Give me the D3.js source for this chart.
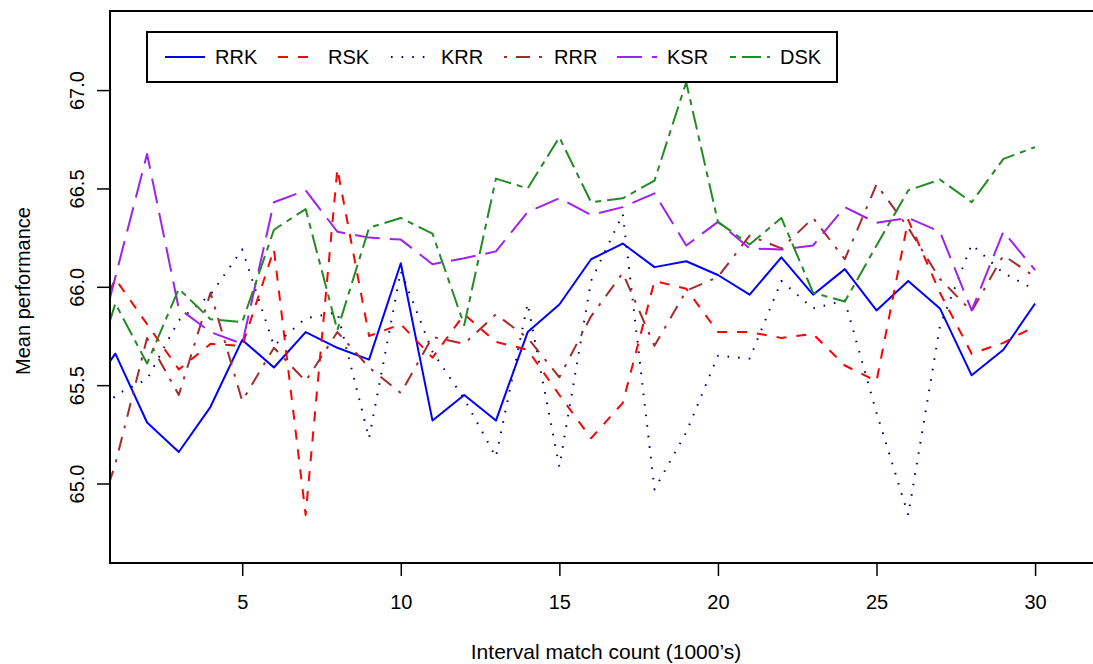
<!DOCTYPE html>
<html>
<head>
<meta charset="utf-8">
<script src="https://cdn.jsdelivr.net/npm/d3@7"></script>
<style>
  html, body { margin: 0; padding: 0; background: #fff; }
  svg { display: block; font-family: "Liberation Sans", Arial, Helvetica, sans-serif; }
</style>
</head>
<body>
<svg id="chart" width="1093" height="664"></svg>
<script>
// Interval match counts (thousands); the first sample sits at 0
const counts = d3.range(0, 31);

const seriesNames = ["RRK", "RSK", "KRR", "RRR", "KSR", "DSK"];

const rrk = [65.43, 65.66, 65.31, 65.16, 65.39, 65.73, 65.59, 65.77, 65.69, 65.63, 66.12,
  65.32, 65.45, 65.32, 65.77, 65.91, 66.14, 66.22, 66.10, 66.13, 66.06,
  65.96, 66.15, 65.96, 66.09, 65.88, 66.03, 65.89, 65.55, 65.68, 65.915];
const rsk = [65.70, 66.04, 65.81, 65.58, 65.71, 65.70, 66.19, 64.84, 66.60, 65.75, 65.81,
  65.64, 65.86, 65.72, 65.68, 65.45, 65.23, 65.41, 66.03, 65.99, 65.77,
  65.77, 65.74, 65.76, 65.60, 65.52, 66.34, 65.97, 65.66, 65.715, 65.80];
const krr = [65.15, 65.45, 65.53, 65.83, 65.96, 66.19, 65.70, 65.84, 65.87, 65.23, 66.08,
  65.67, 65.43, 65.135, 65.915, 65.085, 66.03, 66.37, 64.97, 65.26, 65.65,
  65.635, 66.03, 65.89, 65.93, 65.36, 64.84, 65.80, 66.215, 66.07, 65.985];
const rrr = [64.60, 65.10, 65.74, 65.45, 65.97, 65.42, 65.69, 65.52, 65.77, 65.59, 65.46,
  65.745, 65.71, 65.86, 65.74, 65.54, 65.85, 66.07, 65.70, 65.98, 66.05,
  66.26, 66.195, 66.35, 66.14, 66.52, 66.30, 66.04, 65.875, 66.16, 66.05];
const ksr = [65.42, 66.05, 66.675, 65.89, 65.77, 65.71, 66.43, 66.49, 66.28, 66.25, 66.24,
  66.115, 66.145, 66.18, 66.38, 66.45, 66.365, 66.405, 66.475, 66.21, 66.33,
  66.195, 66.19, 66.21, 66.405, 66.325, 66.35, 66.28, 65.88, 66.28, 66.085];
const dsk = [65.40, 65.915, 65.61, 65.99, 65.835, 65.82, 66.29, 66.395, 65.78, 66.30, 66.35,
  66.27, 65.805, 66.55, 66.50, 66.76, 66.43, 66.45, 66.54, 67.04, 66.33,
  66.215, 66.35, 65.97, 65.925, 66.21, 66.49, 66.545, 66.43, 66.65, 66.71];

const xTicks = [5, 10, 15, 20, 25, 30];
const yTicks = [65.0, 65.5, 66.0, 66.5, 67.0];
const yTickLabels = ["65.0", "65.5", "66.0", "66.5", "67.0"];

const xTitle = "Interval match count (1000\u2019s)";
const yTitle = "Mean performance";

// Line styles in the spirit of R's lty 1..6
const styles = [
  { color: "#0000FF", dash: null },
  { color: "#FF0000", dash: "10,10" },
  { color: "#000080", dash: "1.6,9" },
  { color: "#A52A2A", dash: "3,9,14,9" },
  { color: "#A020F0", dash: "25,10" },
  { color: "#228B22", dash: "6,6,19,6" }
];

const seriesValues = [rrk, rsk, krr, rrr, ksr, dsk];

const plot = { left: 110, top: 11, right: 1102, bottom: 563 };

const x = d3.scaleLinear().domain([0.831, 32.11]).range([plot.left, plot.right]);
const y = d3.scaleLinear().domain([64.596, 67.402]).range([plot.bottom, plot.top]);

const svg = d3.select("#chart");

svg.append("defs").append("clipPath").attr("id", "plot-clip")
  .append("rect")
  .attr("x", plot.left).attr("y", plot.top)
  .attr("width", plot.right - plot.left).attr("height", plot.bottom - plot.top);

const line = d3.line().x((d, i) => x(counts[i])).y(d => y(d));

const lines = svg.append("g").attr("clip-path", "url(#plot-clip)");
seriesValues.forEach((vals, k) => {
  lines.append("path")
    .datum(vals)
    .attr("d", line)
    .attr("fill", "none")
    .attr("stroke", styles[k].color)
    .attr("stroke-width", 2)
    .attr("stroke-linejoin", "round")
    .attr("stroke-dasharray", styles[k].dash);
});

// Frame
svg.append("rect")
  .attr("x", plot.left).attr("y", plot.top)
  .attr("width", plot.right - plot.left).attr("height", plot.bottom - plot.top)
  .attr("fill", "none").attr("stroke", "#000").attr("stroke-width", 2);

// Axes
const xAxis = d3.axisBottom(x).tickValues(xTicks).tickSize(13).tickPadding(19).tickFormat(d3.format("d"));
const gx = svg.append("g").attr("transform", `translate(0,${plot.bottom})`).call(xAxis);
gx.select(".domain").remove();
gx.selectAll(".tick line").attr("stroke", "#000").attr("stroke-width", 1.5);
gx.selectAll(".tick text").attr("font-size", 20).attr("fill", "#000")
  .attr("font-family", "Liberation Sans, Arial, sans-serif");

const yAxis = d3.axisLeft(y).tickValues(yTicks).tickSize(13)
  .tickFormat((d, i) => yTickLabels[i]);
const gy = svg.append("g").attr("transform", `translate(${plot.left},0)`).call(yAxis);
gy.select(".domain").remove();
gy.selectAll(".tick line").attr("stroke", "#000").attr("stroke-width", 1.5);
gy.selectAll(".tick text")
  .attr("font-size", 20).attr("fill", "#000")
  .attr("font-family", "Liberation Sans, Arial, sans-serif")
  .attr("x", null).attr("dy", null)
  .attr("text-anchor", "middle")
  .attr("transform", "translate(-26,0) rotate(-90)");

// Axis titles
svg.append("text")
  .attr("x", (plot.left + plot.right) / 2).attr("y", 659)
  .attr("text-anchor", "middle").attr("font-size", 21).text(xTitle);

svg.append("text")
  .attr("transform", `translate(30,${(plot.top + plot.bottom) / 2 + 4}) rotate(-90)`)
  .attr("text-anchor", "middle").attr("font-size", 20).text(yTitle);

// Legend
const legend = svg.append("g");
legend.append("rect")
  .attr("x", 147).attr("y", 32).attr("width", 690).attr("height", 50)
  .attr("fill", "#fff").attr("stroke", "#000").attr("stroke-width", 2);

const lx = d3.scalePoint().domain(seriesNames).range([165, 730]);
seriesNames.forEach((name, k) => {
  const g = legend.append("g").attr("transform", `translate(${lx(name)},57)`);
  g.append("line").attr("x1", 0).attr("x2", 40).attr("y1", 0).attr("y2", 0)
    .attr("stroke", styles[k].color).attr("stroke-width", 2)
    .attr("stroke-dasharray", styles[k].dash);
  g.append("text").attr("x", 50).attr("y", 7).attr("font-size", 20).text(name);
});
</script>
</body>
</html>
